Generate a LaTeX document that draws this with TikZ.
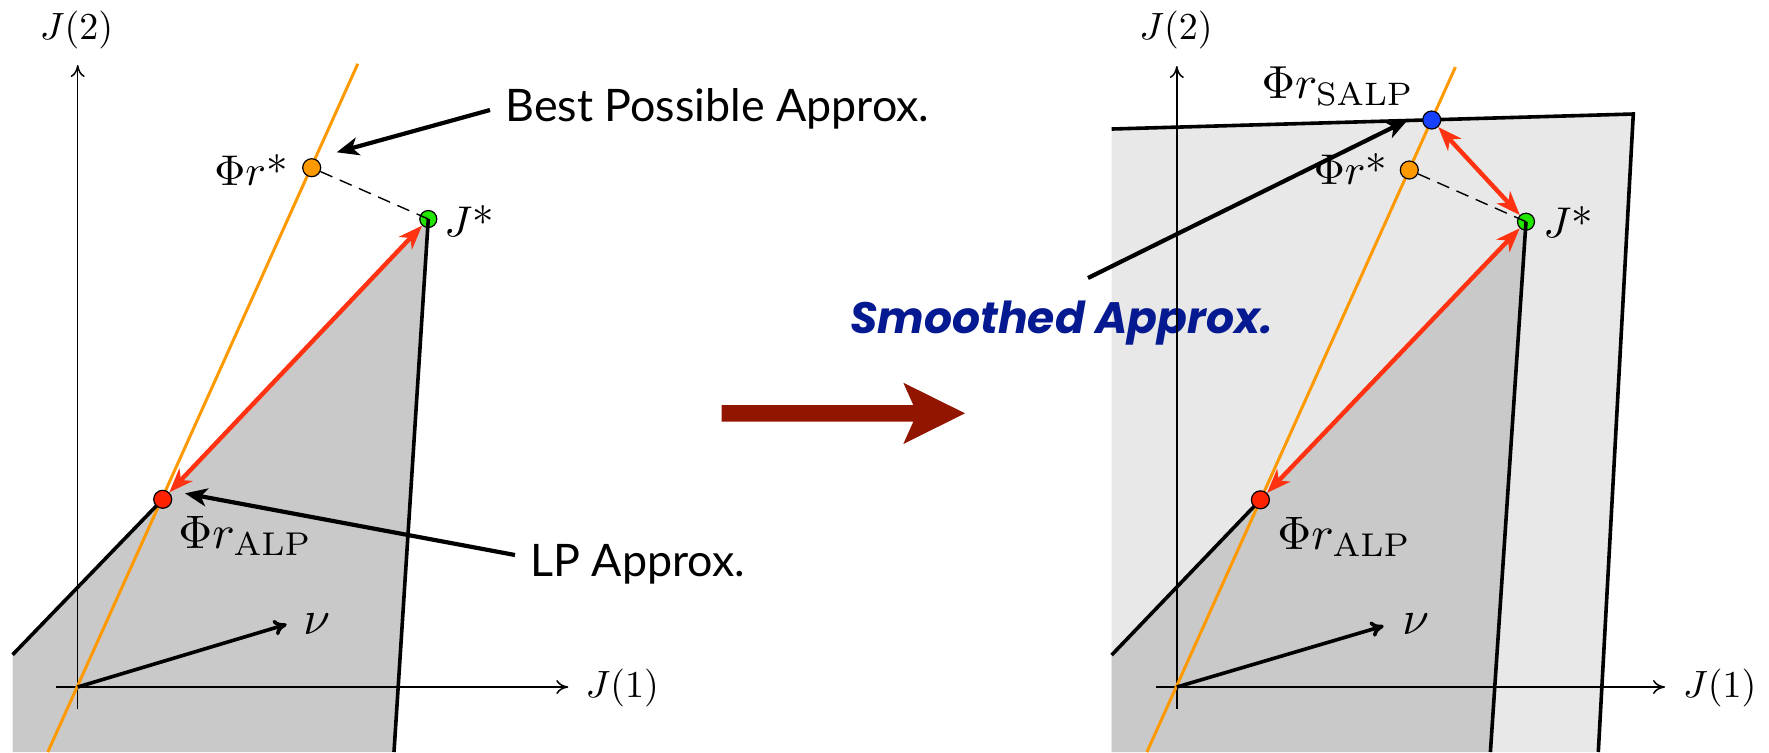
\documentclass[tikz,border=0pt]{standalone}
\usepackage{fontspec}
\usepackage{graphicx}
\newfontfamily\gillfont{Lato}
\newfontfamily\smfont{Poppins}
\usetikzlibrary{arrows.meta}
\definecolor{dkgray}{RGB}{201,201,201}
\definecolor{ltgray}{RGB}{232,232,232}
\definecolor{orng}{RGB}{255,153,0}
\definecolor{grn}{RGB}{34,230,0}
\definecolor{rdot}{RGB}{255,34,0}
\definecolor{bdot}{RGB}{24,64,255}
\definecolor{arrred}{RGB}{255,51,17}
\definecolor{bigred}{RGB}{146,21,0}
\definecolor{smblue}{RGB}{5,25,145}
\pgfdeclarelayer{fg}
\pgfsetlayers{main,fg}
\newcommand\myast{\raisebox{0.24em}{$\ast$}}
\newcommand\mlab[2]{\scalebox{#1}{#2}}
\begin{document}
\begin{tikzpicture}[x=0.5pt,y=-0.5pt,
  lbl/.style={inner sep=0pt,anchor=base west},
  axlbl/.style={inner sep=0pt},
  dot/.style={circle,draw=black,line width=0.6pt,inner sep=0pt,minimum size=9pt},
  axis/.style={line width=0.75pt,-{To[length=6pt,width=7pt]}},
  bound/.style={line width=1.8pt},
  redarr/.style={draw=arrred,line width=2.2pt,{Stealth[length=12pt,width=9pt,inset=3.5pt]}-{Stealth[length=12pt,width=9pt,inset=3.5pt]}},
  annot/.style={line width=2.1pt,-{Stealth[length=11pt,width=9pt,inset=3pt]}},
  nuarr/.style={line width=1.8pt,-{To[length=6.5pt,width=8pt]}},
  orl/.style={draw=orng,line width=1.5pt},
  dsh/.style={line width=0.7pt,dash pattern=on 6.5pt off 4pt},
  gtext/.style={inner sep=0pt,anchor=base west,font=\gillfont\fontsize{22.4}{26}\selectfont}
]
\useasboundingbox (0,0) rectangle (1769,752);

% ================= LEFT PANEL =================
\coordinate (La) at (12.6,654.7);
\coordinate (Lbl) at (12.6,752);
\coordinate (Lbr) at (394,752);
\coordinate (Lred) at (162.7,499.3);
\coordinate (Lgrn) at (428.3,219);
\coordinate (Lorg) at (311.7,167.7);
\fill[dkgray] (La) -- (Lred) -- (Lgrn) -- (Lbr) -- (Lbl) -- cycle;

\coordinate (Lyb) at (77.7,709);
\coordinate (Lyt) at (77.7,65);
\coordinate (Lxl) at (55.5,687);
\coordinate (Lxr) at (568.3,687);
\coordinate (Lo) at (77.7,687);
\draw[axis] (Lyb) -- (Lyt);
\draw[axis] (Lxl) -- (Lxr);
\node[axlbl] (LJ2) at (76.5,30) {\mlab{1.9}{$J(2)$}};
\node[axlbl] (LJ1) at (622.3,688) {\mlab{1.9}{$J(1)$}};

\coordinate (Lob) at (47.8,752);
\coordinate (Lot) at (357.8,63.8);
\draw[orl] (Lob) -- (Lot);

\node[dot,fill=grn,minimum size=8.5pt] (LG) at (Lgrn) {};
\begin{pgfonlayer}{fg}
\node[dot,fill=orng] (LO) at (Lorg) {};
\node[dot,fill=rdot] (LR) at (Lred) {};
\end{pgfonlayer}

\draw[bound] (La) -- (LR.center);
\draw[bound] (LG.center) -- (Lbr);
\draw[dsh] (LO) -- (LG.center);
\draw[redarr] (LR) -- (LG);

\coordinate (Lnu) at (286.7,624.3);
\draw[nuarr] (Lo) -- (Lnu);

\node[lbl] (LPhiS) at (214,185) {\mlab{2.15}{$\Phi r$\myast}};
\node[lbl] (LJS) at (444,236) {\mlab{2.15}{$J$\myast}};
\node[lbl] (LPhiA) at (178,548.3) {\mlab{2.35}{$\Phi r_{\mathrm{ALP}}$}};
\node[lbl] (LNU) at (303,634) {\mlab{2.4}{$\nu$}};

\node[gtext] (best) at (505,121.7) {Best Possible Approx.};
\coordinate (bestT) at (490,110);
\coordinate (bestH) at (336.7,152.3);
\draw[annot] (bestT) -- (bestH);

\node[gtext] (lp) at (530,576.7) {LP Approx.};
\coordinate (lpT) at (515,555);
\coordinate (lpH) at (185,493.3);
\draw[annot] (lpT) -- (lpH);

% ================= MIDDLE ARROW =================
\fill[bigred] (721.7,405) -- (913.3,405) -- (903.3,382.7) -- (965,413.3) -- (903.3,444) -- (913.3,421.7) -- (721.7,421.7) -- cycle;

% ================= RIGHT PANEL =================
\coordinate (Rtl) at (1111.7,129);
\coordinate (Rtr) at (1633.3,114);
\coordinate (Rbr) at (1598.3,752);
\coordinate (Rbl) at (1111.7,752);
\fill[ltgray] (Rtl) -- (Rtr) -- (Rbr) -- (Rbl) -- cycle;

\coordinate (Ra) at (1111.7,655);
\coordinate (Rred) at (1260.4,499.8);
\coordinate (Rgrn) at (1526,221.7);
\coordinate (Rib) at (1490.4,752);
\coordinate (Rorg) at (1409.3,170);
\coordinate (Rblu) at (1431.7,120);
\fill[dkgray] (Ra) -- (Rred) -- (Rgrn) -- (Rib) -- (Rbl) -- cycle;

\node[inner sep=0pt,anchor=base west,text=smblue,font=\smfont\bfseries\itshape\fontsize{22}{26}\selectfont] (smooth) at (850,333.3) {Smoothed Approx.};

\coordinate (Ryb) at (1176.8,709);
\coordinate (Ryt) at (1176.8,66);
\coordinate (Rxl) at (1155.5,687);
\coordinate (Rxr) at (1665,687);
\coordinate (Ro) at (1176.8,687);
\draw[axis] (Ryb) -- (Ryt);
\draw[axis] (Rxl) -- (Rxr);
\node[axlbl] (RJ2) at (1176,30) {\mlab{1.9}{$J(2)$}};
\node[axlbl] (RJ1) at (1719.7,688) {\mlab{1.9}{$J(1)$}};

\coordinate (Rob) at (1146.9,752);
\coordinate (Rot) at (1455.4,67.1);
\draw[orl] (Rob) -- (Rot);

\node[dot,fill=grn,minimum size=8.5pt] (RG) at (Rgrn) {};
\begin{pgfonlayer}{fg}
\node[dot,fill=orng] (RO) at (Rorg) {};
\node[dot,fill=rdot] (RR) at (Rred) {};
\node[dot,fill=bdot] (RB) at (Rblu) {};
\end{pgfonlayer}

\draw[bound] (Rtl) -- (Rtr) -- (Rbr);
\draw[bound] (Ra) -- (RR.center);
\draw[bound] (RG.center) -- (Rib);
\draw[dsh] (RO) -- (RG.center);
\draw[redarr] (RR) -- (RG);
\draw[redarr] (RB) -- (RG);

\coordinate (Rnu) at (1383.7,625.9);
\draw[nuarr] (Ro) -- (Rnu);

\coordinate (smT) at (1088,278);
\coordinate (smH) at (1407.8,120);
\draw[annot] (smT) -- (smH);

\node[lbl] (RPhiSA) at (1261.3,98.3) {\mlab{2.32}{$\Phi r_{\mathrm{SALP}}$}};
\node[lbl] (RPhiS) at (1313.5,184) {\mlab{2.15}{$\Phi r$\myast}};
\node[lbl] (RJS) at (1543,237) {\mlab{2.15}{$J$\myast}};
\node[lbl] (RPhiA) at (1277,549) {\mlab{2.35}{$\Phi r_{\mathrm{ALP}}$}};
\node[lbl] (RNU) at (1402,634) {\mlab{2.4}{$\nu$}};
\end{tikzpicture}
\end{document}
